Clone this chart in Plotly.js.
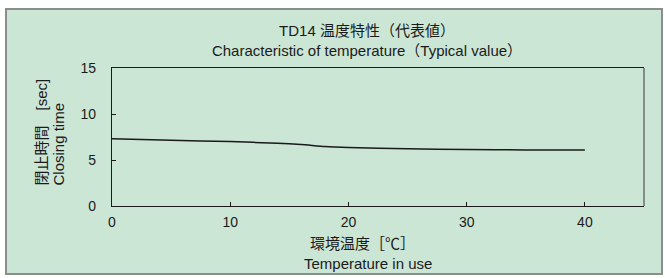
<!DOCTYPE html>
<html><head><meta charset="utf-8">
<script src="https://cdn.plot.ly/plotly-3.0.1.min.js"></script>
<style>html,body{margin:0;padding:0;background:#fff}</style>
</head><body><div id="chart" style="width:665px;height:278px"></div>
<script>
const temperature = [0, 5, 10, 14, 16, 18, 20, 25, 30, 35, 40];
const closingTime = [7.3, 7.15, 7.0, 6.82, 6.68, 6.47, 6.36, 6.22, 6.15, 6.1, 6.1];
const xTicks = [0, 10, 20, 30, 40];
const yTicks = [0, 5, 10, 15];
const titleText = 'TD14 温度特性（代表値）<br>Characteristic of temperature（Typical value）';
const xTitleLines = ['環境温度［℃］', 'Temperature in use'];
const yTitleLines = ['閉止時間\u3000[sec]', 'Closing time'];

const FONT = 'Liberation Sans, Arial, Noto Sans CJK JP, sans-serif';
const INK = '#1a1a1a';
const W = 665, H = 278, L = 112, R = 21, T = 68, B = 72;
const pw = W - L - R, ph = H - T - B;
const px = p => (p - L) / pw;
const py = p => (H - B - p) / ph;

const ann = (text, x, y, opts) => Object.assign({
  text: text, xref: 'paper', yref: 'paper', x: px(x), y: py(y),
  showarrow: false, font: {family: FONT, size: 15, color: INK},
  xanchor: 'center', yanchor: 'middle'
}, opts || {});

Plotly.newPlot('chart', [{
  x: temperature, y: closingTime, type: 'scatter', mode: 'lines',
  line: {color: INK, width: 1.5, shape: 'spline', smoothing: 0.6},
  hoverinfo: 'skip'
}], {
  width: W, height: H,
  margin: {l: L, r: R, t: T, b: B, pad: 0},
  paper_bgcolor: '#ffffff',
  plot_bgcolor: 'rgba(0,0,0,0)',
  showlegend: false,
  font: {family: FONT, size: 14, color: INK},
  title: {
    text: titleText,
    font: {family: FONT, size: 15, color: INK},
    x: px(367), xref: 'paper', xanchor: 'center',
    y: 1 - 36 / H, yref: 'container', yanchor: 'middle'
  },
  xaxis: {
    range: [0, 45], tickvals: xTicks, ticks: 'inside', ticklen: 4, tickcolor: INK,
    showline: true, linecolor: INK, linewidth: 1.2, mirror: true,
    showgrid: false, zeroline: false, ticklabelstandoff: 3,
    tickfont: {family: FONT, size: 14, color: INK}
  },
  yaxis: {
    range: [0, 15], tickvals: yTicks, ticks: 'inside', ticklen: 4, tickcolor: INK,
    showline: true, linecolor: INK, linewidth: 1.2,
    showgrid: false, zeroline: false, ticklabelstandoff: 12,
    tickfont: {family: FONT, size: 14, color: INK}
  },
  annotations: [
    ann(xTitleLines[0], 362, 244),
    ann(xTitleLines[1], 368, 263),
    ann(yTitleLines[0], 41, 188, {textangle: -90, yanchor: 'bottom'}),
    ann(yTitleLines[1], 58, 188, {textangle: -90, yanchor: 'bottom'})
  ],
  shapes: [
    {type: 'rect', xref: 'paper', yref: 'paper', layer: 'below',
     x0: px(6), x1: px(662), y0: py(274), y1: py(9),
     fillcolor: '#cce6d6', line: {color: '#8a8f8c', width: 2}},
    {type: 'line', xref: 'paper', yref: 'paper', layer: 'above',
     x0: 1, x1: 1, y0: 0, y1: 1, line: {color: '#6a6f6c', width: 1.5}}
  ]
}, {displayModeBar: false, staticPlot: true});
</script></body></html>
